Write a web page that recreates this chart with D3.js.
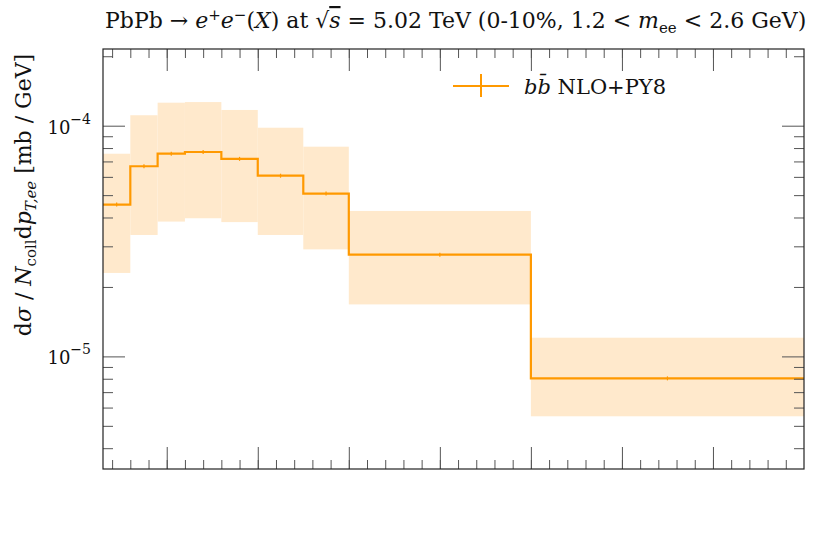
<!DOCTYPE html>
<html><head><meta charset="utf-8">
<script src="https://cdn.jsdelivr.net/npm/d3@7"></script>
<style>body{margin:0;background:#fff}svg{display:block}text{font-family:"DejaVu Serif",serif;fill:#111}</style>
</head><body><svg id="c" width="830" height="540"></svg>
<script>
// pT,ee bin edges [GeV]
const binEdges = [0.3, 0.6, 0.9, 1.2, 1.6, 2.0, 2.5, 3.0, 5.0, 8.0];
// central values [mb/GeV]
const central = [4.55e-5, 6.67e-5, 7.56e-5, 7.69e-5, 7.18e-5, 6.07e-5, 5.08e-5, 2.76e-5, 8.03e-6];
// uncertainty band
const bandUp  = [7.56e-5, 1.11e-4, 1.258e-4, 1.266e-4, 1.17e-4, 9.80e-5, 8.11e-5, 4.27e-5, 1.205e-5];
const bandLow = [2.30e-5, 3.36e-5, 3.84e-5, 3.97e-5, 3.82e-5, 3.36e-5, 2.91e-5, 1.68e-5, 5.50e-6];
const xMajorTicks = [1, 2, 3, 4, 5, 6, 7];
const xMinorTicks = d3.range(2, 40).map(i => i / 5);
const yMajorTicks = [1e-5, 1e-4];
const yMinorTicks = [4e-6,5e-6,6e-6,7e-6,8e-6,9e-6,2e-5,3e-5,4e-5,5e-5,6e-5,7e-5,8e-5,9e-5,2e-4];
const yTickLabels = [{base:"10", exp:"−5"}, {base:"10", exp:"−4"}];

const svg = d3.select("#c");
const L = 103, R = 804, T = 49, B = 469;
const x = d3.scaleLinear().domain([0.3, 8.0]).range([L, R]);
const y = d3.scaleLog().domain([3.25e-6, 2.15e-4]).range([B, T]);

const orange = "#ff9900";
const bins = central.map((v, i) => ({x0: binEdges[i], x1: binEdges[i+1], v, up: bandUp[i], lo: bandLow[i]}));

// bands
svg.append("g").selectAll("rect").data(bins).join("rect")
  .attr("x", d => x(d.x0)).attr("width", d => x(d.x1) - x(d.x0))
  .attr("y", d => y(d.up)).attr("height", d => y(d.lo) - y(d.up))
  .attr("fill", "#ffe9cc");

// step line
const pts = [];
bins.forEach(d => { pts.push([d.x0, d.v]); pts.push([d.x1, d.v]); });
svg.append("path").datum(pts)
  .attr("d", d3.line().x(d => x(d[0])).y(d => y(d[1])))
  .attr("fill", "none").attr("stroke", orange).attr("stroke-width", 2.2);
// tiny center markers
svg.append("g").selectAll("line").data(bins).join("line")
  .attr("x1", d => x((d.x0 + d.x1) / 2)).attr("x2", d => x((d.x0 + d.x1) / 2))
  .attr("y1", d => y(d.v) - 2).attr("y2", d => y(d.v) + 2)
  .attr("stroke", orange).attr("stroke-width", 1.2);

// axes
const tickCol = "#555";
function styleAxis(g) {
  g.select(".domain").remove();
  g.selectAll(".tick line").attr("stroke", tickCol).attr("stroke-width", 1);
  g.selectAll(".tick text").remove();
}
svg.append("g").attr("transform", `translate(0,${B})`).call(d3.axisBottom(x).tickValues(xMinorTicks).tickSize(-9).tickFormat("")).call(styleAxis);
svg.append("g").attr("transform", `translate(0,${B})`).call(d3.axisBottom(x).tickValues(xMajorTicks).tickSize(-22).tickFormat("")).call(styleAxis);
svg.append("g").attr("transform", `translate(0,${T})`).call(d3.axisTop(x).tickValues(xMinorTicks).tickSize(-9).tickFormat("")).call(styleAxis);
svg.append("g").attr("transform", `translate(0,${T})`).call(d3.axisTop(x).tickValues(xMajorTicks).tickSize(-22).tickFormat("")).call(styleAxis);
svg.append("g").attr("transform", `translate(${L},0)`).call(d3.axisLeft(y).tickValues(yMinorTicks).tickSize(-10).tickFormat("")).call(styleAxis);
svg.append("g").attr("transform", `translate(${L},0)`).call(d3.axisLeft(y).tickValues(yMajorTicks).tickSize(-22).tickFormat("")).call(styleAxis);
svg.append("g").attr("transform", `translate(${R},0)`).call(d3.axisRight(y).tickValues(yMinorTicks).tickSize(-10).tickFormat("")).call(styleAxis);
svg.append("g").attr("transform", `translate(${R},0)`).call(d3.axisRight(y).tickValues(yMajorTicks).tickSize(-22).tickFormat("")).call(styleAxis);

// frame
svg.append("rect").attr("x", L).attr("y", T).attr("width", R - L).attr("height", B - T)
  .attr("fill", "none").attr("stroke", "#222").attr("stroke-width", 1.2);

// y tick labels
yMajorTicks.forEach((v, i) => {
  const t = svg.append("text").attr("x", 91).attr("y", y(v) + 8).attr("text-anchor", "end").attr("font-size", 18);
  t.append("tspan").text(yTickLabels[i].base);
  t.append("tspan").attr("dy", -10).attr("font-size", 14).text(yTickLabels[i].exp);
});

// title
const title = svg.append("text").attr("x", 105).attr("y", 28).attr("font-size", 22);
title.append("tspan").text("PbPb → ");
title.append("tspan").attr("font-style", "italic").text("e");
title.append("tspan").attr("dy", -8).attr("font-size", 15).text("+");
title.append("tspan").attr("dy", 8).attr("font-style", "italic").text("e");
title.append("tspan").attr("dy", -8).attr("font-size", 15).text("−");
title.append("tspan").attr("dy", 8).text("(");
title.append("tspan").attr("font-style", "italic").text("X");
title.append("tspan").text(") at √");
title.append("tspan").attr("font-style", "italic").style("text-decoration", "overline").text("s");
title.append("tspan").text(" = 5.02 TeV (0-10%, 1.2 < ");
title.append("tspan").attr("font-style", "italic").text("m");
title.append("tspan").attr("dy", 5).attr("font-size", 15).text("ee");
title.append("tspan").attr("dy", -5).text(" < 2.6 GeV)");

// y label
const yl = svg.append("text").attr("transform", "translate(31,195) rotate(-90)").attr("text-anchor", "middle").attr("font-size", 22);
yl.append("tspan").text("d");
yl.append("tspan").attr("font-style", "italic").text("σ");
yl.append("tspan").text(" / ");
yl.append("tspan").attr("font-style", "italic").text("N");
yl.append("tspan").attr("dy", 5).attr("font-size", 15).text("coll");
yl.append("tspan").attr("dy", -5).text("d");
yl.append("tspan").attr("font-style", "italic").text("p");
yl.append("tspan").attr("dy", 5).attr("font-size", 15).attr("font-style", "italic").text("T,ee");
yl.append("tspan").attr("dy", -5).text(" [mb / GeV]");

// legend
const lg = svg.append("g");
lg.append("line").attr("x1", 453).attr("x2", 509).attr("y1", 86).attr("y2", 86).attr("stroke", orange).attr("stroke-width", 2);
lg.append("line").attr("x1", 481).attr("x2", 481).attr("y1", 74).attr("y2", 97).attr("stroke", orange).attr("stroke-width", 2);
const lt = lg.append("text").attr("x", 524).attr("y", 94).attr("font-size", 21);
lt.append("tspan").attr("font-style", "italic").text("bb\u0304");
lt.append("tspan").text(" NLO+PY8");
</script></body></html>
